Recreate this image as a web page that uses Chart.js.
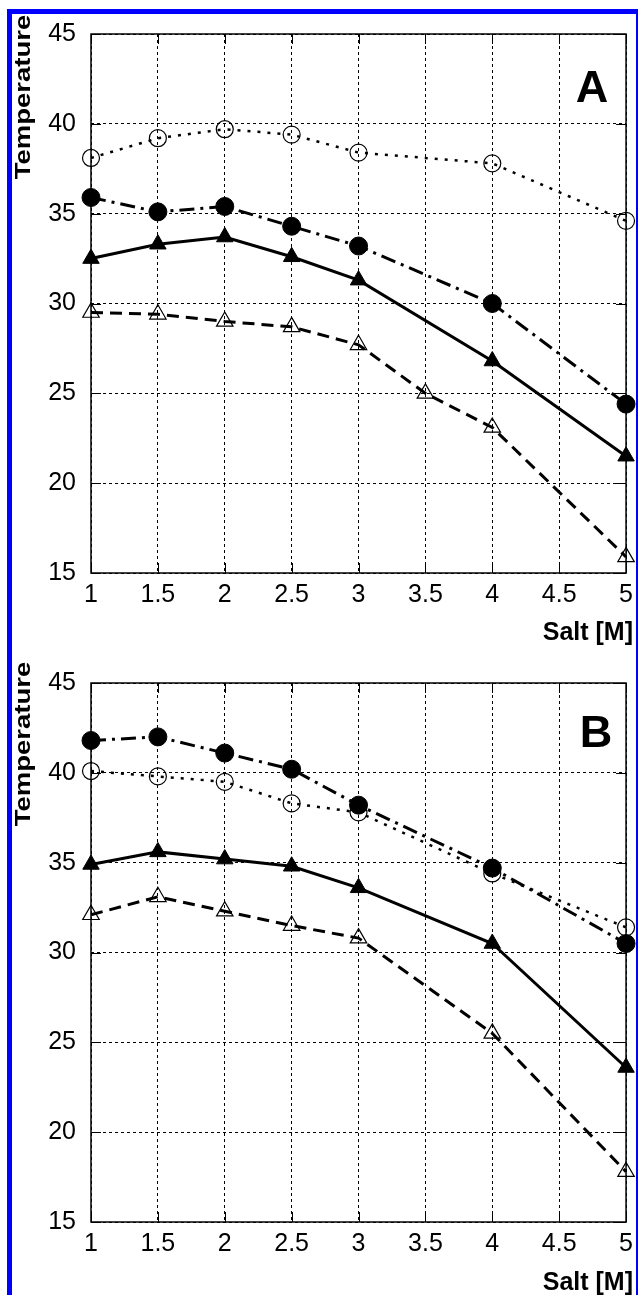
<!DOCTYPE html>
<html>
<head>
<meta charset="utf-8">
<script src="https://cdn.jsdelivr.net/npm/chart.js@4"></script>
<style>
  html, body { margin: 0; padding: 0; background: #fff; }
  #page { position: relative; width: 640px; height: 1295px; overflow: hidden; }
  #frame { position: absolute; left: 7px; top: 9px; width: 624px; height: 1400px;
           border-left: 5px solid #0000ff; border-top: 5px solid #0000ff; border-right: 2px solid #0000ff; }
  canvas { position: absolute; left: 0; }
</style>
</head>
<body>
<div id="page">
  <div id="frame"></div>
  <canvas id="chartA" width="640" height="650" style="top:0"></canvas>
  <canvas id="chartB" width="640" height="645" style="top:650px"></canvas>
</div>
<script>
// Salt concentration (M)
const salt = [1, 1.5, 2, 2.5, 3, 4, 5];
const saltOpenTriA = [1, 1.5, 2, 2.5, 3, 3.5, 4, 5];

// Panel A
const openCircleA   = [38.1, 39.2, 39.7, 39.4, 38.4, 37.8, 34.6];
const filledCircleA = [35.9, 35.1, 35.4, 34.3, 33.2, 30.0, 24.4];
const filledTriA    = [32.5, 33.3, 33.7, 32.6, 31.3, 26.8, 21.5];
const openTriA      = [29.5, 29.4, 29.0, 28.7, 27.7, 25.0, 23.1, 15.9];

// Panel B
const filledCircleB = [41.8, 42.0, 41.1, 40.2, 38.2, 34.7, 30.5];
const openCircleB   = [40.1, 39.8, 39.5, 38.3, 37.8, 34.4, 31.4];
const filledTriB    = [34.9, 35.6, 35.2, 34.8, 33.6, 30.5, 23.6];
const openTriB      = [32.1, 33.1, 32.3, 31.5, 30.8, 25.5, 17.8];

const xTicks = [1, 1.5, 2, 2.5, 3, 3.5, 4, 4.5, 5];
const yTicks = [15, 20, 25, 30, 35, 40, 45];

const FONT = "'Liberation Sans', Arial, sans-serif";

const pts = (xs, ys) => xs.map((x, i) => ({x: x, y: ys[i]}));

// line styles for the four series
function openCircle(xs, ys) {
  return {data: pts(xs, ys), borderColor: '#000', borderWidth: 2.5, borderDash: [3, 7],
    pointStyle: 'circle', pointRadius: 8.5, pointBorderWidth: 1.2,
    pointBackgroundColor: 'rgba(0,0,0,0)', pointBorderColor: '#000', clip: false};
}
function filledCircle(xs, ys) {
  return {data: pts(xs, ys), borderColor: '#000', borderWidth: 3, borderDash: [15, 6, 3, 6],
    pointStyle: 'circle', pointRadius: 9, pointBorderWidth: 1,
    pointBackgroundColor: '#000', pointBorderColor: '#000', clip: false};
}
function filledTri(xs, ys) {
  return {data: pts(xs, ys), borderColor: '#000', borderWidth: 3,
    pointStyle: 'triangle', pointRadius: 9.5, pointBorderWidth: 1,
    pointBackgroundColor: '#000', pointBorderColor: '#000', clip: false};
}
function openTri(xs, ys) {
  return {data: pts(xs, ys), borderColor: '#000', borderWidth: 3, borderDash: [12, 7],
    pointStyle: 'triangle', pointRadius: 9.5, pointBorderWidth: 1.2,
    pointBackgroundColor: 'rgba(0,0,0,0)', pointBorderColor: '#000', clip: false};
}

// solid frame + inward tick marks like the original plot
const framePlugin = {
  id: 'frame',
  beforeDatasetsDraw(chart) {
    const {ctx, chartArea: a, scales: {x, y}} = chart;
    ctx.save();
    ctx.strokeStyle = '#000';
    ctx.lineWidth = 1.5;
    ctx.setLineDash([]);
    ctx.strokeRect(a.left, a.top, a.right - a.left, a.bottom - a.top);
    ctx.lineWidth = 1;
    ctx.beginPath();
    x.ticks.forEach(t => {
      const px = Math.round(x.getPixelForValue(t.value)) + 0.5;
      ctx.moveTo(px, a.bottom); ctx.lineTo(px, a.bottom - 10);
      ctx.moveTo(px, a.top); ctx.lineTo(px, a.top + 10);
    });
    y.ticks.forEach(t => {
      const py = Math.round(y.getPixelForValue(t.value)) + 0.5;
      ctx.moveTo(a.left, py); ctx.lineTo(a.left + 10, py);
      ctx.moveTo(a.right, py); ctx.lineTo(a.right - 10, py);
    });
    ctx.stroke();
    ctx.restore();
  }
};

// axis titles and panel letter
const labelPlugin = {
  id: 'labels',
  afterDraw(chart, args, o) {
    const ctx = chart.ctx;
    ctx.save();
    ctx.fillStyle = '#000';
    ctx.font = 'bold 22px ' + FONT;
    ctx.textAlign = 'center';
    ctx.textBaseline = 'middle';
    ctx.translate(24, o.titleY);
    ctx.rotate(-Math.PI / 2);
    ctx.scale(1.25, 1);
    ctx.fillText('Temperature', 0, 0);
    ctx.restore();

    ctx.save();
    ctx.fillStyle = '#000';
    ctx.font = 'bold 25px ' + FONT;
    ctx.textAlign = 'right';
    ctx.textBaseline = 'alphabetic';
    ctx.fillText('Salt [M]', 633, 640);
    ctx.font = 'bold 45px ' + FONT;
    ctx.textAlign = 'center';
    ctx.fillText(o.letter, o.letterX, o.letterY);
    ctx.restore();
  }
};

function makeChart(id, datasets, pad, xHeight, lab) {
  new Chart(document.getElementById(id), {
    type: 'line',
    data: {datasets: datasets},
    plugins: [framePlugin, labelPlugin],
    options: {
      responsive: false,
      animation: false,
      layout: {padding: {top: pad, right: 10, left: 0, bottom: 0}},
      plugins: {legend: {display: false}, tooltip: {enabled: false}, labels: lab},
      elements: {line: {tension: 0}},
      scales: {
        x: {
          type: 'linear', min: xTicks[0], max: xTicks[xTicks.length - 1],
          afterBuildTicks: s => { s.ticks = xTicks.map(v => ({value: v})); },
          afterFit: s => { s.height = xHeight; },
          grid: {color: '#000', lineWidth: 1, drawTicks: false, borderDash: [3, 3]},
          border: {display: false, dash: [3, 3]},
          ticks: {color: '#000', padding: 7, maxRotation: 0, autoSkip: false,
                  callback: v => String(v),
                  font: {family: FONT, size: 25}}
        },
        y: {
          type: 'linear', min: yTicks[0], max: yTicks[yTicks.length - 1],
          afterBuildTicks: s => { s.ticks = yTicks.map(v => ({value: v})); },
          afterFit: s => { s.width = 91; },
          grid: {color: '#000', lineWidth: 1, drawTicks: false, borderDash: [3, 3]},
          border: {display: false, dash: [3, 3]},
          ticks: {color: '#000', padding: 15, callback: v => String(v),
                  font: {family: FONT, size: 25}}
        }
      }
    }
  });
}

makeChart('chartA', [
  openCircle(salt, openCircleA),
  filledCircle(salt, filledCircleA),
  filledTri(salt, filledTriA),
  openTri(saltOpenTriA, openTriA)
], 34, 77, {titleY: 97, letter: 'A', letterX: 592, letterY: 102});

makeChart('chartB', [
  filledCircle(salt, filledCircleB),
  openCircle(salt, openCircleB),
  filledTri(salt, filledTriB),
  openTri(salt, openTriB)
], 33, 73, {titleY: 94, letter: 'B', letterX: 596, letterY: 97});
</script>
</body>
</html>
